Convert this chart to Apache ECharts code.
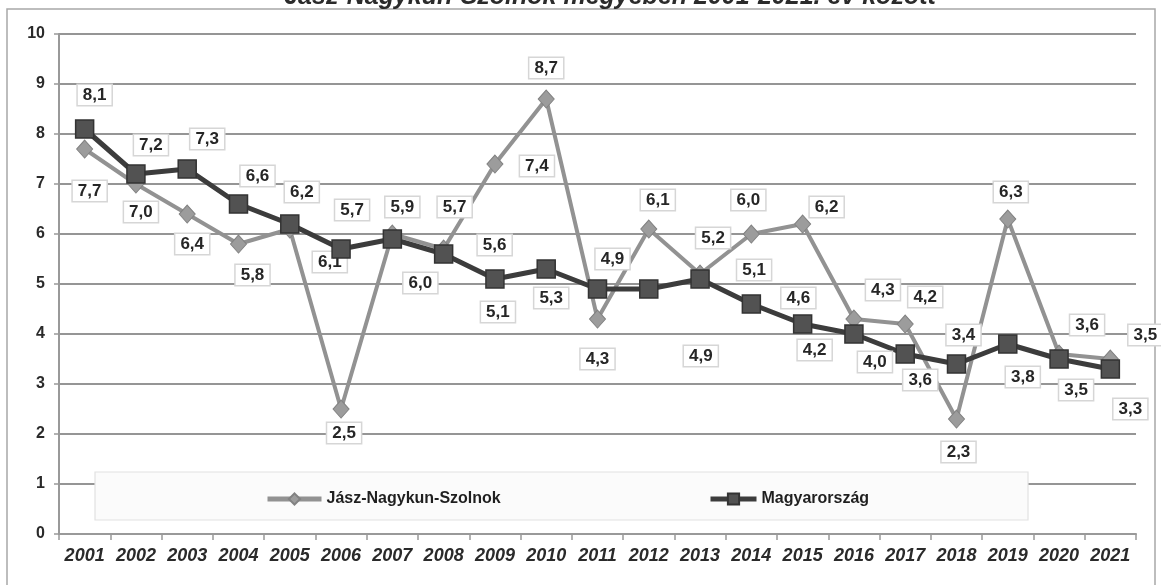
<!DOCTYPE html>
<html>
<head>
<meta charset="utf-8">
<script src="https://cdn.jsdelivr.net/npm/echarts@6/dist/echarts.min.js"></script>
<style>
  html, body { margin: 0; padding: 0; background: #fff; }
  #chart { width: 1161px; height: 585px; }
</style>
</head>
<body>
<div id="chart"></div>
<script>
// Years on the category axis
const years = ['2001','2002','2003','2004','2005','2006','2007','2008','2009','2010','2011',
               '2012','2013','2014','2015','2016','2017','2018','2019','2020','2021'];

// Series values
const jnszValues   = [7.7, 7.0, 6.4, 5.8, 6.1, 2.5, 6.0, 5.7, 7.4, 8.7, 4.3, 6.1, 5.2, 6.0, 6.2, 4.3, 4.2, 2.3, 6.3, 3.6, 3.5];
const magyarValues = [8.1, 7.2, 7.3, 6.6, 6.2, 5.7, 5.9, 5.6, 5.1, 5.3, 4.9, 4.9, 5.1, 4.6, 4.2, 4.0, 3.6, 3.4, 3.8, 3.5, 3.3];

// Value-axis ticks
const yTicks = [0, 1, 2, 3, 4, 5, 6, 7, 8, 9, 10];

const seriesNames = ['Jász-Nagykun-Szolnok', 'Magyarország'];
const titleText = 'Jász-Nagykun-Szolnok megyében 2001-2021. év között';

// Label placement (pixel offset of each value box from its marker)
const jnszLabelOffset = [
  [5, 42], [5, 28], [5, 30], [14, 31], [40, 33], [3, 24], [28, 49], [11, -42], [42, 2], [0, -31], [0, 40],
  [9, -29], [13, -36], [-3, -34], [24, -17], [29, -29], [20, -27], [2, 33], [3, -27], [28, -29], [35, -24]
];
const magyarLabelOffset = [
  [10, -34], [15, -29], [20, -30], [19, -28], [12, -32], [11, -39], [10, -32], [51, -9], [3, 33], [5, 29], [15, -30],
  [52, 67], [54, -9], [47, -6], [12, 26], [21, 28], [15, 26], [7, -29], [15, 33], [17, 31], [20, 40]
];

const fmt = v => v.toFixed(1).replace('.', ',');

const labelBox = {
  show: true,
  position: 'inside',
  color: '#262626',
  fontFamily: 'Liberation Sans, Arial, sans-serif',
  fontWeight: 'bold',
  fontSize: 17,
  backgroundColor: '#ffffff',
  borderColor: '#d6d6d6',
  borderWidth: 1.5,
  padding: [2, 5, 1, 5]
};

function buildData(values, offsets) {
  return values.map((v, i) => ({
    value: v,
    label: Object.assign({}, labelBox, { offset: offsets[i], formatter: () => fmt(v) })
  }));
}

const legendText = { color: '#1f1f1f', fontWeight: 'bold', fontSize: 16, fontFamily: 'Liberation Sans, Arial, sans-serif' };

const chart = echarts.init(document.getElementById('chart'), null, { renderer: 'canvas' });

chart.setOption({
  animation: false,
  backgroundColor: '#ffffff',
  graphic: [
    {
      type: 'rect',
      z: -10,
      shape: { x: 7, y: 9, width: 1148, height: 590 },
      style: { fill: 'none', stroke: '#a8a8a8', lineWidth: 1.5 }
    },
    {
      type: 'text',
      z: 10,
      x: 610,
      y: -3,
      style: {
        text: titleText,
        align: 'center',
        verticalAlign: 'middle',
        fill: '#2b2b2b',
        font: 'italic bold 25px "Liberation Sans", Arial, sans-serif'
      }
    },
    {
      type: 'rect',
      z: 1,
      shape: { x: 95, y: 472, width: 933, height: 48 },
      style: { fill: '#fbfbfb', stroke: '#e2e2e2', lineWidth: 1.2 }
    }
  ],
  legend: [
    {
      data: [seriesNames[0]],
      left: 260,
      top: 486,
      itemWidth: 54,
      itemHeight: 14,
      itemGap: 2,
      lineStyle: { width: 5 },
      textStyle: legendText
    },
    {
      data: [seriesNames[1]],
      left: 703,
      top: 486,
      itemWidth: 46,
      itemHeight: 14,
      lineStyle: { width: 5 },
      textStyle: legendText
    }
  ],
  grid: { left: 59, right: 25, top: 34, bottom: 51, containLabel: false },
  xAxis: {
    type: 'category',
    data: years,
    boundaryGap: true,
    axisLine: { lineStyle: { color: '#999', width: 2 } },
    axisTick: { show: true, length: 6, lineStyle: { color: '#999', width: 1.5 } },
    axisLabel: {
      color: '#2a2a2a',
      fontSize: 18,
      fontWeight: 'bold',
      fontStyle: 'italic',
      fontFamily: 'Liberation Sans, Arial, sans-serif',
      margin: 13,
      interval: 0
    },
    splitLine: { show: false }
  },
  yAxis: {
    type: 'value',
    min: yTicks[0],
    max: yTicks[yTicks.length - 1],
    interval: 1,
    axisLine: { show: true, lineStyle: { color: '#999', width: 2 } },
    axisTick: { show: true, length: 5, lineStyle: { color: '#999', width: 1.5 } },
    axisLabel: {
      color: '#2a2a2a',
      fontSize: 16,
      fontWeight: 'bold',
      fontFamily: 'Liberation Sans, Arial, sans-serif',
      margin: 14
    },
    splitLine: { show: true, lineStyle: { color: '#959595', width: 2 } }
  },
  series: [
    {
      name: seriesNames[0],
      type: 'line',
      z: 3,
      data: buildData(jnszValues, jnszLabelOffset),
      symbol: 'diamond',
      symbolSize: [16, 18],
      lineStyle: { color: '#929292', width: 4 },
      itemStyle: { color: '#9c9c9c', borderColor: '#828282', borderWidth: 1 },
      emphasis: { disabled: true }
    },
    {
      name: seriesNames[1],
      type: 'line',
      z: 4,
      data: buildData(magyarValues, magyarLabelOffset),
      symbol: 'rect',
      symbolSize: 18,
      lineStyle: { color: '#3c3c3c', width: 5 },
      itemStyle: { color: '#525252', borderColor: '#333333', borderWidth: 1.5 },
      emphasis: { disabled: true }
    }
  ]
});
</script>
</body>
</html>
